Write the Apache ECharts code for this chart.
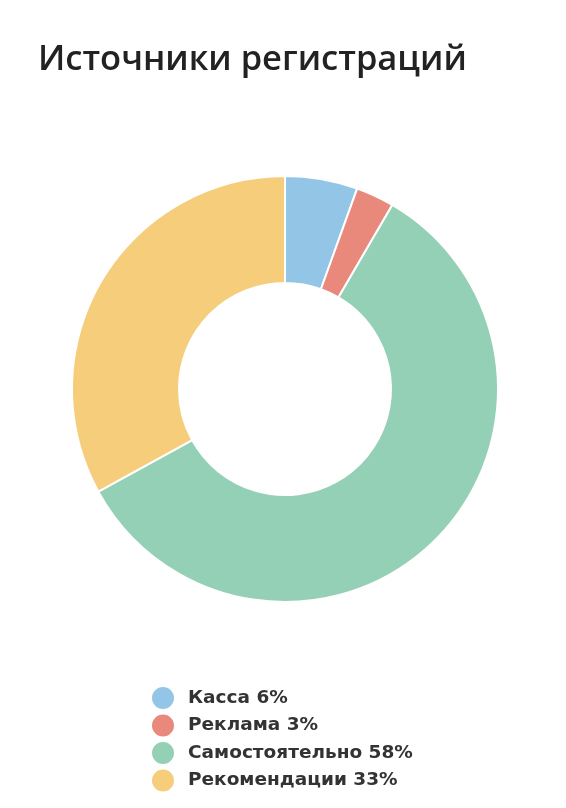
<!DOCTYPE html>
<html>
<head>
<meta charset="utf-8">
<script src="https://cdn.jsdelivr.net/npm/echarts@6/dist/echarts.min.js"></script>
<style>
    html, body { margin: 0; padding: 0; background: #fff; }
    #chart { width: 566px; height: 808px; }
</style>
</head>
<body>
<div id="chart"></div>
<script>
var names = ['Касса', 'Реклама', 'Самостоятельно', 'Рекомендации'];
var values = [5.5, 2.9, 58.6, 33.0];
var percents = ['6%', '3%', '58%', '33%'];
var colors = ['#93c6e6', '#e8897c', '#94d0b6', '#f6cd7a'];

var myChart = echarts.init(document.getElementById('chart'));

var data = names.map(function (n, i) {
    return { name: n, value: values[i], itemStyle: { color: colors[i] } };
});

var option = {
    backgroundColor: '#fff',
    animation: false,
    title: {
        text: 'Источники регистраций',
        left: 33,
        top: 38,
        textStyle: {
            fontFamily: 'Open Sans',
            fontSize: 34.5,
            fontWeight: 600,
            color: '#222'
        }
    },
    legend: {
        orient: 'vertical',
        left: 150,
        top: 685,
        padding: 0,
        itemWidth: 24,
        itemHeight: 24,
        itemGap: 1.5,
        icon: 'circle',
        formatter: function (name) {
            return name + ' ' + percents[names.indexOf(name)];
        },
        textStyle: {
            fontFamily: 'DejaVu Sans',
            fontWeight: 'bold',
            fontSize: 18.5,
            color: '#333',
            padding: [0, 0, 0, 8]
        }
    },
    series: [{
        type: 'pie',
        center: [285, 389],
        radius: [106, 213],
        startAngle: 90,
        clockwise: true,
        label: { show: false },
        labelLine: { show: false },
        itemStyle: { borderColor: '#fff', borderWidth: 2 },
        emphasis: { disabled: true },
        data: data
    }]
};

myChart.setOption(option);
</script>
</body>
</html>
